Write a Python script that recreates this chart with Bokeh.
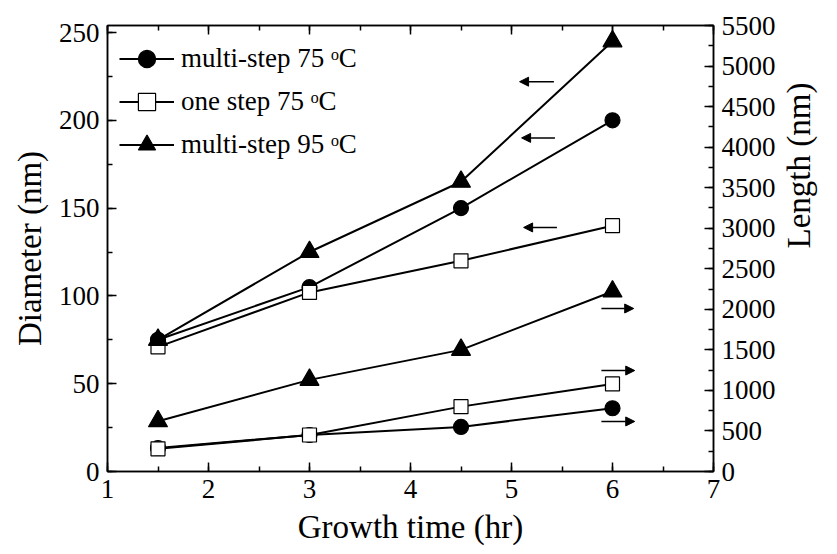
import math
from bokeh.plotting import figure
from bokeh.models import (Range1d, LinearAxis, SingleIntervalTicker, Legend, LegendItem,
                          Arrow, NormalHead)
from bokeh.embed import file_html
from bokeh.resources import INLINE

# ---- data ----
time_hr = [1.5, 3, 4.5, 6]
dia_ms75 = [75, 105, 150, 200]
dia_os75 = [71, 102, 120, 140]
dia_ms95 = [75, 125, 165, 245]
len_ms75 = [290, 450, 550, 780]
len_os75 = [280, 450, 800, 1080]
len_ms95 = [620, 1130, 1500, 2220]
labels = ["multi-step 75 \u1d52C", "one step 75 \u1d52C", "multi-step 95 \u1d52C"]

# arrow annotations (x tail, x head, y)
left_arrows = [(5.42, 5.08, 222), (5.43, 5.10, 190), (5.45, 5.12, 139)]
right_arrows = [(5.89, 6.21, 2010), (5.89, 6.22, 1245), (5.89, 6.22, 617)]

FONT = "Liberation Serif"

p = figure(width=837, height=554, x_range=Range1d(1, 7), y_range=Range1d(0, 254),
           output_backend="svg", toolbar_location=None,
           min_border_left=107, min_border_right=122, min_border_top=25, min_border_bottom=83)
p.extra_y_ranges = {"length": Range1d(0, 5500)}
p.xgrid.visible = False
p.ygrid.visible = False
p.outline_line_color = "black"
p.outline_line_width = 1.5
p.background_fill_color = "white"
p.border_fill_color = "white"

bottom = p.below[0]
left = p.left[0]
bottom.ticker = SingleIntervalTicker(interval=1, num_minor_ticks=2)
left.ticker = SingleIntervalTicker(interval=50, num_minor_ticks=2)
bottom.axis_label = "Growth time (hr)"
left.axis_label = "Diameter (nm)"

right = LinearAxis(y_range_name="length", ticker=SingleIntervalTicker(interval=500, num_minor_ticks=2),
                   axis_label="Length (nm)")
if "axis_label_orientation" in right.properties():
    right.axis_label_orientation = math.pi / 2
p.add_layout(right, "right")
top = LinearAxis(ticker=SingleIntervalTicker(interval=1, num_minor_ticks=2))
p.add_layout(top, "above")

for ax in [bottom, left, right, top]:
    ax.major_tick_in = 9
    ax.major_tick_out = 0
    ax.minor_tick_in = 5
    ax.minor_tick_out = 0
    ax.major_tick_line_width = 1.5
    ax.minor_tick_line_width = 1.5
    ax.axis_line_width = 1.5
    ax.axis_line_color = "black"
    ax.major_tick_line_color = "black"
    ax.minor_tick_line_color = "black"
    ax.major_label_text_font = FONT
    ax.axis_label_text_font = FONT
    ax.axis_label_text_font_style = "normal"
    ax.major_label_text_color = "black"
    ax.axis_label_text_color = "black"
for ax in [bottom, left, right]:
    ax.major_label_text_font_size = "27px"
    ax.axis_label_text_font_size = "33px"
    ax.major_label_standoff = 8
    ax.axis_label_standoff = 8
right.axis_label_standoff = 20
top.major_label_text_font_size = "1px"
top.major_label_text_color = None
top.major_label_standoff = 0

specs = [
    (dia_ms75, len_ms75, "circle", "black", 15),
    (dia_os75, len_os75, "square", "white", 14),
    (dia_ms95, len_ms95, "triangle", "black", 19),
]
items = []
for (d, L, marker, fill, size), lab in zip(specs, labels):
    l1 = p.line(time_hr, d, line_color="black", line_width=2)
    s1 = p.scatter(time_hr, d, marker=marker, size=size, fill_color=fill, line_color="black", line_width=1.2)
    p.line(time_hr, L, line_color="black", line_width=2, y_range_name="length")
    p.scatter(time_hr, L, marker=marker, size=size, fill_color=fill, line_color="black", line_width=1.2,
              y_range_name="length")
    items.append(LegendItem(label=lab, renderers=[l1, s1]))

legend = Legend(items=items, location="top_left")
legend.label_text_font = FONT
legend.label_text_font_size = "27px"
legend.label_text_color = "black"
legend.glyph_width = 55
legend.glyph_height = 43
legend.label_height = 43
legend.spacing = 0
legend.label_standoff = 7
legend.margin = 12
legend.padding = 13
legend.border_line_color = None
legend.background_fill_alpha = 0
p.add_layout(legend)

for xt, xh, y in left_arrows:
    p.add_layout(Arrow(end=NormalHead(size=9, fill_color="black", line_color="black"),
                       x_start=xt, y_start=y, x_end=xh, y_end=y, line_width=1.5, line_color="black"))
for xt, xh, y in right_arrows:
    p.add_layout(Arrow(end=NormalHead(size=9, fill_color="black", line_color="black"),
                       x_start=xt, y_start=y, x_end=xh, y_end=y, line_width=1.5, line_color="black",
                       y_range_name="length"))

open("out.html", "w").write(file_html(p, INLINE))
